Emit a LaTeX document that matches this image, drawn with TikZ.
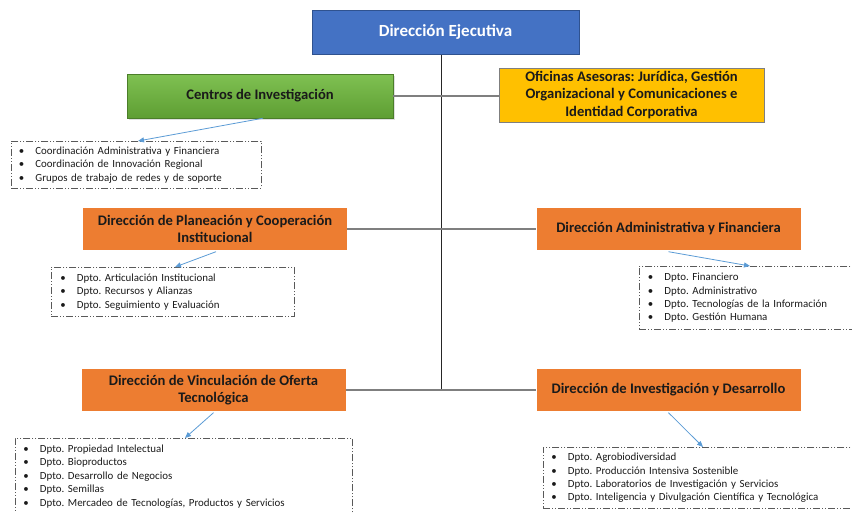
\documentclass[tikz,border=0pt]{standalone}
\usepackage{fontspec}
\setmainfont{Carlito}
\usetikzlibrary{arrows.meta,shadows}
\definecolor{eblue}{HTML}{4472C4}
\definecolor{eblueb}{HTML}{2F528F}
\definecolor{egreenT}{HTML}{7FC152}
\definecolor{egreenB}{HTML}{5E9E33}
\definecolor{eorange}{HTML}{ED7D31}
\definecolor{eyellow}{HTML}{FFC000}
\definecolor{arrblue}{HTML}{5B9BD5}
\definecolor{lineg}{HTML}{7F7F7F}
\definecolor{listb}{HTML}{595959}
\definecolor{txt}{HTML}{1A1A1A}
\newcommand{\bu}[1]{\makebox[16.5pt][l]{\textbullet}#1}
\frenchspacing
\begin{document}
\begin{tikzpicture}[x=1pt,y=-1pt,
 mainbox/.style={rectangle, inner sep=0pt, align=center, text=txt, font=\fontsize{14.6}{17.3}\selectfont\bfseries},
 orangebox/.style={mainbox, fill=eorange, minimum width=264pt, minimum height=42pt},
 listbox/.style={rectangle, draw=listb, line width=0.8pt, dash pattern=on 7pt off 2pt on 1pt off 2pt on 1pt off 2pt, anchor=north west, align=left, inner ysep=0pt, text=txt, font=\fontsize{10.9}{13.4}\selectfont},
 conn/.style={draw=lineg, line width=1.3pt},
 vline/.style={draw=black!85, line width=1pt},
 arr/.style={draw=arrblue, line width=0.8pt, -{Triangle[length=6pt,width=5pt]}}]
\useasboundingbox (0,0) rectangle (852,512);
\clip (0,0) rectangle (852,512);

% main boxes
\node[mainbox, fill=eblue, draw=eblueb, line width=1pt, text=white, font=\fontsize{17}{20}\selectfont\bfseries,
  minimum width=267pt, minimum height=44pt] (ejec) at (445.5,32) {Dirección Ejecutiva};
\node[mainbox, top color=egreenT, bottom color=egreenB, draw=egreenB!80!black, line width=0.4pt,
  drop shadow={shadow xshift=1.5pt, shadow yshift=-1.5pt, opacity=0.25},
  minimum width=266pt, minimum height=44pt] (centros) at (260,96) {Centros de Investigación};
\node[mainbox, fill=eyellow, draw=lineg, line width=1pt, minimum width=265pt, minimum height=54pt,
  font=\fontsize{14.6}{17.6}\selectfont\bfseries]
  (ofi) at (631.5,95) {Oficinas Asesoras: Jurídica, Gestión\\Organizacional y Comunicaciones e\\Identidad Corporativa};
\node[orangebox] (plan) at (215,229) {Dirección de Planeación y Cooperación\\Institucional};
\node[orangebox] (admin) at (668.5,229) {Dirección Administrativa y Financiera};
\node[orangebox] (vinc) at (213.5,390) {Dirección de Vinculación de Oferta\\Tecnológica};
\node[orangebox] (ind) at (668.5,390) {Dirección de Investigación y Desarrollo};

% list boxes
\node[listbox, inner xsep=7.5pt, text width=235pt, minimum height=47pt] (coord) at (11,141)
  {\bu{Coordinación Administrativa y Financiera}\\\bu{Coordinación de Innovación Regional}\\\bu{Grupos de trabajo de redes y de soporte}};
\node[listbox, inner xsep=9pt, text width=225pt, minimum height=49pt] (planl) at (51,267)
  {\bu{Dpto. Articulación Institucional}\\\bu{Dpto. Recursos y Alianzas}\\\bu{Dpto. Seguimiento y Evaluación}};
\node[listbox, inner xsep=8.5pt, text width=213pt, minimum height=63pt] (adminl) at (639,266)
  {\bu{Dpto. Financiero}\\\bu{Dpto. Administrativo}\\\bu{Dpto. Tecnologías de la Información}\\\bu{Dpto. Gestión Humana}};
\node[listbox, inner xsep=8pt, text width=321pt, minimum height=76pt] (vincl) at (15,438)
  {\bu{Dpto. Propiedad Intelectual}\\\bu{Dpto. Bioproductos}\\\bu{Dpto. Desarrollo de Negocios}\\\bu{Dpto. Semillas}\\\bu{Dpto. Mercadeo de Tecnologías, Productos y Servicios}};
\node[listbox, inner xsep=8pt, text width=314pt, minimum height=61pt] (indl) at (543,447)
  {\bu{Dpto. Agrobiodiversidad}\\\bu{Dpto. Producción Intensiva Sostenible}\\\bu{Dpto. Laboratorios de Investigación y Servicios}\\\bu{Dpto. Inteligencia y Divulgación Científica y Tecnológica}};

% connectors
\draw[vline] ([xshift=-4.5pt]ejec.south) -- ([xshift=-4.5pt]ejec.south |- vinc.east);
\draw[conn] (centros.east) -- (centros.east -| ofi.west);
\draw[conn] (plan.east) -- (admin.west);
\draw[conn] (vinc.east) -- (ind.west);

% arrows
\draw[arr] ([xshift=3pt]centros.south) -- ([xshift=127pt]coord.north west);
\draw[arr] ([xshift=1pt,yshift=-1.5pt]plan.south) -- ([xshift=124pt]planl.north west);
\draw[arr] ([yshift=-1.5pt]admin.south) -- ([xshift=111pt]adminl.north west);
\draw[arr] ([yshift=-1.5pt]vinc.south) -- ([xshift=170pt]vincl.north west);
\draw[arr] ([yshift=-1.5pt]ind.south) -- ([xshift=160pt]indl.north west);
\end{tikzpicture}
\end{document}
